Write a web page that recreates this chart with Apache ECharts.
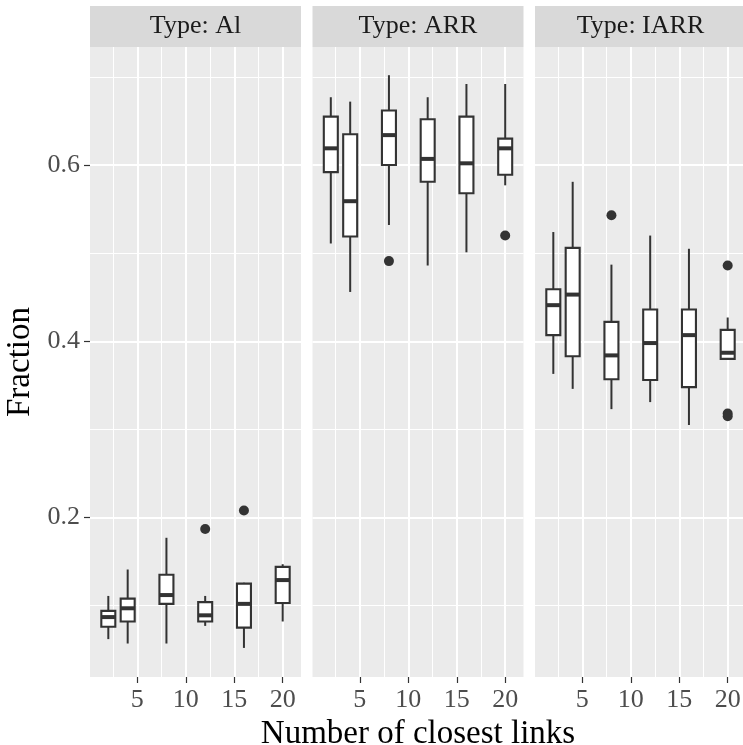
<!DOCTYPE html>
<html>
<head>
<meta charset="utf-8">
<script src="https://cdn.jsdelivr.net/npm/echarts@6/dist/echarts.min.js"></script>
<style>html,body{margin:0;padding:0;background:#fff;}#chart{width:743px;height:745px;}</style>
</head>
<body>
<div id="chart"></div>
<script>
// ---- data ----
const panelTitles = ['Type: Al', 'Type: ARR', 'Type: IARR'];
const xPositions = [2, 4, 8, 12, 16, 20];
// rows: [min, Q1, median, Q3, max] for each x position
const alBoxes = [
  [0.062, 0.076, 0.087, 0.094, 0.111],
  [0.057, 0.082, 0.097, 0.108, 0.141],
  [0.057, 0.102, 0.112, 0.135, 0.177],
  [0.077, 0.082, 0.089, 0.104, 0.111],
  [0.052, 0.075, 0.102, 0.125, 0.126],
  [0.082, 0.103, 0.129, 0.144, 0.147]
];
const arrBoxes = [
  [0.511, 0.592, 0.619, 0.655, 0.677],
  [0.456, 0.519, 0.559, 0.635, 0.672],
  [0.532, 0.600, 0.634, 0.662, 0.702],
  [0.486, 0.581, 0.607, 0.652, 0.677],
  [0.501, 0.568, 0.602, 0.655, 0.692],
  [0.577, 0.589, 0.619, 0.630, 0.692]
];
const iarrBoxes = [
  [0.363, 0.407, 0.441, 0.459, 0.524],
  [0.346, 0.383, 0.453, 0.506, 0.581],
  [0.323, 0.357, 0.384, 0.422, 0.487],
  [0.331, 0.356, 0.398, 0.436, 0.520],
  [0.305, 0.348, 0.407, 0.436, 0.505],
  [0.380, 0.380, 0.387, 0.413, 0.427]
];
const alOutliers = [[12, 0.187], [16, 0.208]];
const arrOutliers = [[8, 0.491], [20, 0.520]];
const iarrOutliers = [[8, 0.543], [20, 0.486], [20, 0.318], [20, 0.315]];

const xTicks = [5, 10, 15, 20];
const xMinor = [2.5, 7.5, 12.5, 17.5];
const yTicks = [0.2, 0.4, 0.6];
const yMinor = [0.1, 0.3, 0.5, 0.7];
const xRange = [0.11, 21.89];
const yRange = [0.019, 0.734];

// ---- layout ----
const FONT = '"Liberation Serif", "Times New Roman", serif';
const panelLeft = [90, 312.5, 535];
const panelWidth = 211;
const panelTop = 47;
const panelHeight = 630;
const stripTop = 6;

const boxesAll = [alBoxes, arrBoxes, iarrBoxes];
const outliersAll = [alOutliers, arrOutliers, iarrOutliers];

const chart = echarts.init(document.getElementById('chart'), null, {renderer: 'canvas'});

const grids = [], xAxes = [], yAxes = [], series = [], graphics = [];

for (let i = 0; i < 3; i++) {
  grids.push({
    left: panelLeft[i], top: panelTop, width: panelWidth, height: panelHeight,
    show: true, backgroundColor: '#EBEBEB', borderWidth: 0,
    containLabel: false, outerBoundsMode: 'none'
  });
  xAxes.push({
    type: 'value', gridIndex: i, min: xRange[0], max: xRange[1],
    axisLine: {show: false},
    axisTick: {show: true, customValues: xTicks, length: 6, lineStyle: {color: '#333333', width: 1.2}},
    axisLabel: {show: true, customValues: xTicks, margin: 10, fontFamily: FONT, fontSize: 26, color: '#4D4D4D'},
    splitLine: {show: false},
    name: i === 1 ? 'Number of closest links' : '',
    nameLocation: 'middle', nameGap: 34,
    nameTextStyle: {fontFamily: FONT, fontSize: 33, color: '#000'}
  });
  yAxes.push({
    type: 'value', gridIndex: i, min: yRange[0], max: yRange[1],
    axisLine: {show: false},
    axisTick: {show: i === 0, customValues: yTicks, length: 6, lineStyle: {color: '#333333', width: 1.2}},
    axisLabel: {show: i === 0, customValues: yTicks, margin: 10, fontFamily: FONT, fontSize: 26, color: '#4D4D4D',
      formatter: v => v.toFixed(1)},
    splitLine: {show: false},
    name: i === 0 ? 'Fraction' : '',
    nameLocation: 'middle', nameGap: 53, nameRotate: 90,
    nameTextStyle: {fontFamily: FONT, fontSize: 33, color: '#000'}
  });

  const gridLines = [];
  xMinor.forEach(v => gridLines.push({xAxis: v, lineStyle: {width: 1.0}}));
  yMinor.forEach(v => gridLines.push({yAxis: v, lineStyle: {width: 1.0}}));
  xTicks.forEach(v => gridLines.push({xAxis: v, lineStyle: {width: 2.0}}));
  yTicks.forEach(v => gridLines.push({yAxis: v, lineStyle: {width: 2.0}}));

  series.push({
    type: 'scatter', xAxisIndex: i, yAxisIndex: i, data: [], silent: true, z: 1,
    markLine: {
      silent: true, z: 1, symbol: ['none', 'none'], animation: false,
      label: {show: false},
      lineStyle: {color: '#FFFFFF', type: 'solid'},
      emphasis: {disabled: true},
      data: gridLines
    }
  });

  series.push({
    type: 'custom', xAxisIndex: i, yAxisIndex: i, z: 10,
    encode: {x: 0, y: [1, 2, 3, 4, 5]},
    data: boxesAll[i].map((b, k) => [xPositions[k]].concat(b)),
    renderItem: function (params, api) {
      const x = api.value(0);
      const lo = api.coord([x, api.value(1)]);
      const q1 = api.coord([x, api.value(2)]);
      const md = api.coord([x, api.value(3)]);
      const q3 = api.coord([x, api.value(4)]);
      const hi = api.coord([x, api.value(5)]);
      const hw = 7;
      const stroke = '#333333';
      return {
        type: 'group',
        children: [
          {type: 'line', shape: {x1: hi[0], y1: hi[1], x2: q3[0], y2: q3[1]}, style: {stroke: stroke, lineWidth: 2}},
          {type: 'line', shape: {x1: q1[0], y1: q1[1], x2: lo[0], y2: lo[1]}, style: {stroke: stroke, lineWidth: 2}},
          {type: 'rect', shape: {x: q3[0] - hw, y: q3[1], width: 2 * hw, height: q1[1] - q3[1]},
            style: {fill: '#FFFFFF', stroke: stroke, lineWidth: 2.1}},
          {type: 'line', shape: {x1: md[0] - hw, y1: md[1], x2: md[0] + hw, y2: md[1]}, style: {stroke: stroke, lineWidth: 4}}
        ]
      };
    }
  });

  series.push({
    type: 'scatter', xAxisIndex: i, yAxisIndex: i, z: 11,
    symbol: 'circle', symbolSize: 10,
    itemStyle: {color: '#333333', opacity: 1},
    data: outliersAll[i]
  });

  graphics.push({
    type: 'rect', left: panelLeft[i], top: stripTop,
    shape: {width: panelWidth, height: panelTop - stripTop},
    style: {fill: '#D9D9D9'}, silent: true
  });
  graphics.push({
    type: 'text', x: panelLeft[i] + panelWidth / 2, y: (stripTop + panelTop) / 2,
    style: {text: panelTitles[i], font: '26px ' + FONT, fill: '#1A1A1A', textAlign: 'center', textVerticalAlign: 'middle'},
    silent: true
  });
}

chart.setOption({
  animation: false,
  backgroundColor: '#FFFFFF',
  grid: grids,
  xAxis: xAxes,
  yAxis: yAxes,
  series: series,
  graphic: graphics
});
</script>
</body>
</html>
